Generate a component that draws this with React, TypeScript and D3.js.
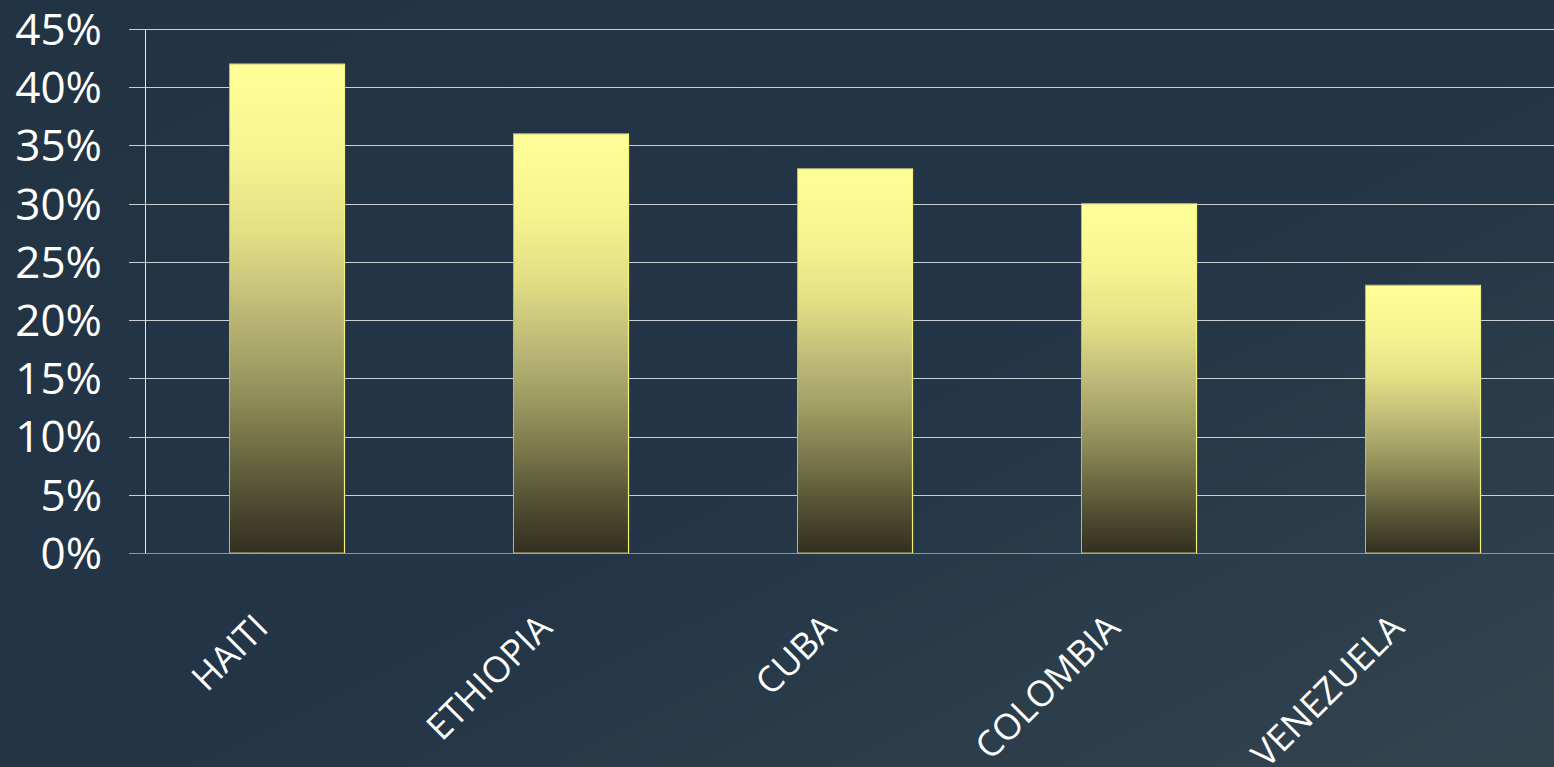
import React from "react";
import * as d3 from "d3";

const categories = ["HAITI", "ETHIOPIA", "CUBA", "COLOMBIA", "VENEZUELA"];
const values = [0.42, 0.36, 0.33, 0.30, 0.23];
const yTicks = [0, 0.05, 0.1, 0.15, 0.2, 0.25, 0.3, 0.35, 0.4, 0.45];

const W = 1554;
const H = 767;

export default function App() {
  const x = d3
    .scaleBand<string>()
    .domain(categories)
    .range([145, 1565])
    .paddingInner(0.595)
    .paddingOuter(0.2975);
  const y = d3.scaleLinear().domain([0, 0.45]).range([553, 29]);
  const fmt = d3.format(".0%");

  return (
    <svg
      width={W}
      height={H}
      style={{ position: "fixed", left: 0, top: 0, display: "block" }}
    >
      <defs>
        <linearGradient id="bg" x1="0" y1="0" x2="1" y2="1">
          <stop offset="0" stopColor="#223444" />
          <stop offset="0.55" stopColor="#233546" />
          <stop offset="1" stopColor="#34444f" />
        </linearGradient>
        <linearGradient id="bar" x1="0" y1="0" x2="0" y2="1">
          <stop offset="0" stopColor="#ffff99" />
          <stop offset="0.2" stopColor="#f6f290" />
          <stop offset="0.35" stopColor="#e2de84" />
          <stop offset="0.5" stopColor="#bdba78" />
          <stop offset="0.62" stopColor="#a09e64" />
          <stop offset="0.75" stopColor="#7b794b" />
          <stop offset="0.88" stopColor="#535034" />
          <stop offset="1" stopColor="#322f20" />
        </linearGradient>
      </defs>
      <rect x={0} y={0} width={W} height={H} fill="url(#bg)" />
      {yTicks.map((t) => (
        <line
          key={"g" + t}
          x1={129}
          x2={W}
          y1={Math.round(y(t)) + 0.5}
          y2={Math.round(y(t)) + 0.5}
          stroke={t === 0 ? "#8a949c" : "#c9cfd4"}
          strokeWidth={1}
        />
      ))}
      <line x1={145.5} x2={145.5} y1={y(0.45)} y2={y(0)} stroke="#e6e9ec" strokeWidth={1} />
      {yTicks.map((t) => (
        <text
          key={"t" + t}
          x={102}
          y={y(t)}
          dy="0.36em"
          textAnchor="end"
          fill="#ffffff"
          fontFamily="'Open Sans', sans-serif"
          fontSize={44}
        >
          {fmt(t)}
        </text>
      ))}
      {categories.map((c, i) => (
        <g key={c}>
          <rect
            x={x(c)!}
            y={y(values[i])}
            width={x.bandwidth()}
            height={y(0) - y(values[i])}
            fill="url(#bar)"
            stroke="#b8b878"
            strokeWidth={1}
          />
          <line
            x1={x(c)! + x.bandwidth()}
            x2={x(c)! + x.bandwidth()}
            y1={y(values[i])}
            y2={y(0)}
            stroke="#f2f27a"
            strokeWidth={1.2}
          />
        </g>
      ))}
      {categories.map((c) => (
        <text
          key={"l" + c}
          transform={`translate(${x(c)! + x.bandwidth() / 2 - 17},${630}) rotate(-45)`}
          textAnchor="end"
          fill="#ffffff"
          fontFamily="'Open Sans', sans-serif"
          fontSize={36}
        >
          {c}
        </text>
      ))}
    </svg>
  );
}
